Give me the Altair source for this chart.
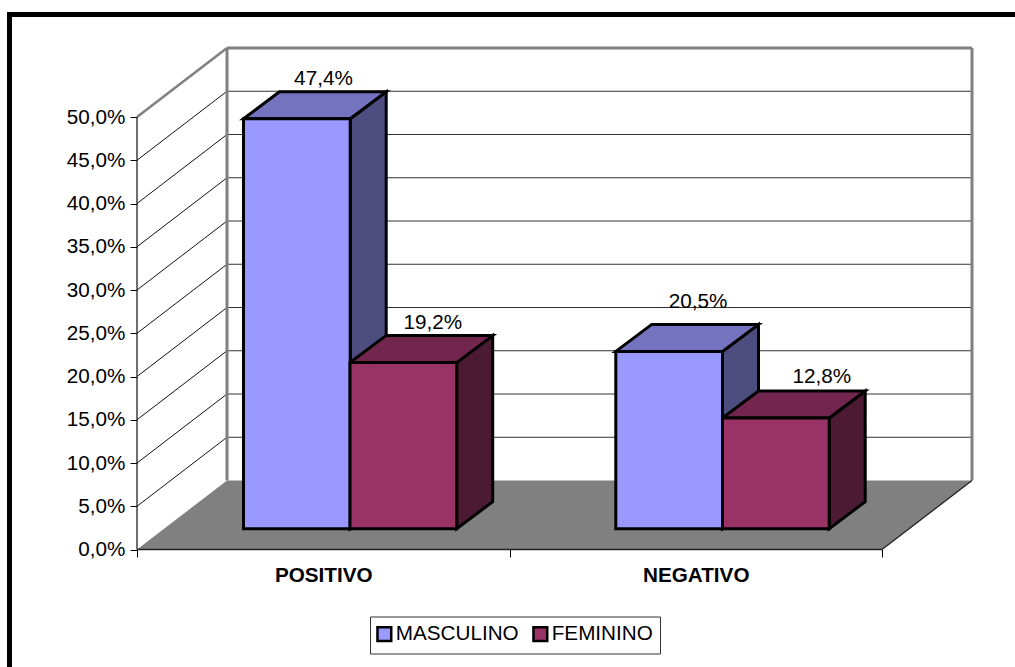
import altair as alt
import pandas as pd

# Survey results by answer group and sex
categories = ["POSITIVO", "NEGATIVO"]
series = ["MASCULINO", "FEMININO"]
masculino = [47.4, 20.5]
feminino = [19.2, 12.8]
y_ticks = [0, 5, 10, 15, 20, 25, 30, 35, 40, 45, 50]

front_colors = ["#9999FF", "#993366"]
top_colors = ["#7373BF", "#73264D"]
side_colors = ["#4D4D80", "#4D1A33"]

# Pixel geometry of the fake 3D box
LEFT = 137.0
ZERO_Y = 549.5
PX_PER_UNIT = 8.65
PX_PER_CAT = 372.5
WALL_DX, WALL_DY = 90.0, 69.0
BAR_DX, BAR_DY = 36.0, 27.0
W, H = 1015, 667
FONT = "Liberation Sans"
FS = 20.7


def xu(px):
    return (px - LEFT) / PX_PER_CAT


def yu(py):
    return (ZERO_Y - py) / PX_PER_UNIT


wall_dx = WALL_DX / PX_PER_CAT
wall_dy = WALL_DY / PX_PER_UNIT
bar_dx = BAR_DX / PX_PER_CAT
bar_dy = BAR_DY / PX_PER_UNIT
bar_base = yu(528.7)
right = xu(882)

bar_left = {0: [243.5, 615.8], 1: [350.0, 722.5]}
bar_w = 106.7
label_dx = [[26.6, 29.0], [29.5, 46.0]]
label_dy = [[-7.0, -16.0], [-7.0, -8.0]]

fronts, tops, sides, labels = [], [], [], []
for s, (name, vals) in enumerate(zip(series, [masculino, feminino])):
    for c, v in enumerate(vals):
        x0 = xu(bar_left[s][c])
        x1 = x0 + bar_w / PX_PER_CAT
        yt = bar_base + v
        key = f"{s}-{c}"
        fronts.append(dict(series=name, x=x0, x2=x1, y=bar_base, y2=yt))
        tops.append(dict(bar=key, fill=top_colors[s], y=yt, x=x0, x2=x1))
        tops.append(dict(bar=key, fill=top_colors[s], y=yt + bar_dy, x=x0 + bar_dx, x2=x1 + bar_dx))
        sides.append(dict(bar=key, fill=side_colors[s], x=x1, y=bar_base, y2=yt))
        sides.append(dict(bar=key, fill=side_colors[s], x=x1 + bar_dx, y=bar_base + bar_dy, y2=yt + bar_dy))
        labels.append(dict(
            text=f"{v:.1f}".replace(".", ",") + "%",
            x=(x0 + x1) / 2 + label_dx[s][c] / PX_PER_CAT,
            y=yt + bar_dy - label_dy[s][c] / PX_PER_UNIT,
        ))

x_scale = alt.Scale(domain=[0, (W - LEFT) / PX_PER_CAT], range=[0, W - LEFT], nice=False, zero=False)
y_scale = alt.Scale(domain=[(ZERO_Y - H) / PX_PER_UNIT, ZERO_Y / PX_PER_UNIT], range=[H, 0], nice=False, zero=False)

X = alt.X("x:Q", scale=x_scale, title=None, axis=alt.Axis(
    values=[0, 1, 2], grid=False, domain=False, tickSize=7.5, tickColor="#000000", tickWidth=1,
    labelExpr=f"datum.value < 2 ? {categories!r}[datum.value] : ''",
    labelFont=FONT, labelFontSize=FS, labelFontWeight="bold", labelColor="#000000",
    labelOffset=PX_PER_CAT / 2, labelPadding=8, labelBaseline="top", labelAngle=0, labelFlush=False,
    labelOverlap=False, offset=ZERO_Y - H,
))
Y = alt.Y("y:Q", scale=y_scale, title=None, axis=alt.Axis(
    values=y_ticks, grid=False, domain=False, tickSize=7, tickColor="#000000", tickWidth=1,
    labelExpr="replace(format(datum.value, '.1f'), '.', ',') + '%'",
    labelFont=FONT, labelFontSize=FS, labelColor="#000000", labelPadding=5, labelOverlap=False,
))
X2 = alt.X2("x2:Q")
Y2 = alt.Y2("y2:Q")


def rules(rows, color, width):
    return alt.Chart(pd.DataFrame(rows)).mark_rule(color=color, strokeWidth=width).encode(X, Y, x2=X2, y2=Y2)


# Outer frame, open to the right and the bottom of the page
frame = rules([
    dict(x=xu(7), x2=xu(W), y=yu(14.5), y2=yu(14.5)),
    dict(x=xu(9.5), x2=xu(9.5), y=yu(12), y2=yu(H)),
], "#000000", 5)

floor_rows = [
    dict(y=wall_dy, x=wall_dx, x2=right + wall_dx),
    dict(y=0.0, x=0.0, x2=right),
]
floor = alt.Chart(pd.DataFrame(floor_rows)).mark_area(orient="horizontal", color="#808080").encode(X, Y, x2=X2)

grid_back = rules([
    dict(x=wall_dx, x2=right + wall_dx, y=t + wall_dy, y2=t + wall_dy) for t in y_ticks[1:-1]
], "#333333", 1)
grid_side = rules([
    dict(x=0.0, x2=wall_dx, y=t, y2=t + wall_dy) for t in y_ticks[1:-1]
], "#111111", 1)

top_val = y_ticks[-1]
wall_edges = rules([
    dict(x=wall_dx, x2=right + wall_dx, y=top_val + wall_dy, y2=top_val + wall_dy),
    dict(x=wall_dx, x2=wall_dx, y=top_val + wall_dy, y2=wall_dy),
    dict(x=right + wall_dx, x2=right + wall_dx, y=top_val + wall_dy, y2=wall_dy),
], "#808080", 3)
wall_diag = rules([
    dict(x=0.0, x2=wall_dx, y=top_val, y2=top_val + wall_dy),
], "#808080", 2.5)
axis_lines = rules([
    dict(x=0.0, x2=0.0, y=top_val, y2=0.0),
    dict(x=0.0, x2=right, y=0.0, y2=0.0),
    dict(x=right, x2=right + wall_dx, y=0.0, y2=wall_dy),
], "#222222", 1.3)

EDGE = dict(stroke="#000000", strokeWidth=3)
side_faces = alt.Chart(pd.DataFrame(sides)).mark_area(**EDGE).encode(
    X, Y, y2=Y2, detail="bar:N", fill=alt.Fill("fill:N", scale=None)
)
top_faces = alt.Chart(pd.DataFrame(tops)).mark_area(orient="horizontal", **EDGE).encode(
    X, Y, x2=X2, detail="bar:N", fill=alt.Fill("fill:N", scale=None)
)
front_faces = alt.Chart(pd.DataFrame(fronts)).mark_rect(**EDGE).encode(
    X, Y, x2=X2, y2=Y2,
    color=alt.Color("series:N", scale=alt.Scale(domain=series, range=front_colors), title=None, legend=alt.Legend(
        orient="none", legendX=370 - LEFT, legendY=616.5, direction="horizontal", columns=2,
        symbolType="square", symbolSize=190, symbolStrokeColor="#000000", symbolStrokeWidth=2.5,
        labelFont=FONT, labelFontSize=FS, labelColor="#000000", labelLimit=200,
        strokeColor="#333333", fillColor="#FFFFFF", padding=7, cornerRadius=0, columnPadding=9,
        labelOffset=1, symbolOffset=-3, labelBaseline="middle",
    )),
)
value_labels = alt.Chart(pd.DataFrame(labels)).mark_text(
    font=FONT, fontSize=FS, color="#000000", align="center", baseline="alphabetic"
).encode(X, Y, text="text:N")

chart = alt.layer(
    frame, grid_back, grid_side, wall_edges, wall_diag, floor, axis_lines,
    side_faces, top_faces, front_faces, value_labels,
).properties(
    width=W - LEFT,
    height=H,
    padding={"left": LEFT, "top": 0, "right": 0, "bottom": 0},
    autosize=alt.AutoSizeParams(type="none"),
    background="#FFFFFF",
).configure_view(strokeWidth=0)

chart.save("out.html", embed_options={"renderer": "svg", "actions": False})
